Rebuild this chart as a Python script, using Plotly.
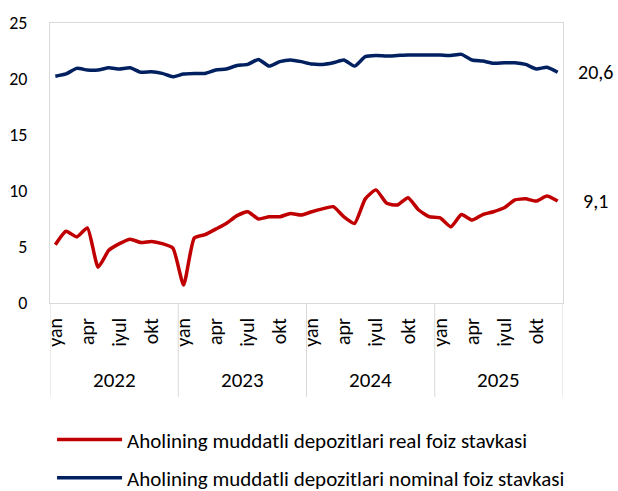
import plotly.graph_objects as go

years = ["2022", "2023", "2024", "2025"]
month_labels = ["yan", "apr", "iyul", "okt"]
month_label_idx = [0, 3, 6, 9]

real_rate = [
    5.2, 6.4, 5.9, 6.7, 3.2, 4.7, 5.3, 5.7, 5.4, 5.5, 5.3, 4.9,
    1.6, 5.8, 6.1, 6.6, 7.1, 7.8, 8.15, 7.5, 7.7, 7.7, 8.0, 7.85,
    8.15, 8.4, 8.6, 7.7, 7.1, 9.3, 10.1, 8.9, 8.75, 9.4, 8.3, 7.7,
    7.6, 6.8, 7.9, 7.4, 7.9, 8.15, 8.5, 9.2, 9.3, 9.1, 9.55, 9.1,
]
nominal_rate = [
    20.25, 20.45, 20.95, 20.8, 20.8, 21.0, 20.9, 21.0, 20.6, 20.65, 20.5, 20.2,
    20.45, 20.5, 20.5, 20.8, 20.9, 21.2, 21.3, 21.75, 21.15, 21.55, 21.7, 21.55,
    21.33, 21.3, 21.45, 21.7, 21.15, 22.0, 22.1, 22.05, 22.1, 22.15, 22.15, 22.15,
    22.15, 22.1, 22.2, 21.7, 21.6, 21.4, 21.45, 21.45, 21.3, 20.9, 21.05, 20.6,
]

name_real = "Aholining muddatli depozitlari real foiz stavkasi"
name_nominal = "Aholining muddatli depozitlari nominal foiz stavkasi"

FONT = "Calibri, Carlito, Lato, sans-serif"
RED = "#C00000"
BLUE = "#002060"
GRID = "#D9D9D9"

n = len(real_rate)
x = list(range(n))

fig = go.Figure()
fig.add_trace(go.Scatter(
    x=x, y=real_rate, name=name_real, mode="lines", showlegend=True,
    line=dict(color=RED, width=3.5, shape="spline", smoothing=0.5),
    legend="legend",
))
fig.add_trace(go.Scatter(
    x=x, y=nominal_rate, name=name_nominal, mode="lines", showlegend=True,
    line=dict(color=BLUE, width=3.5, shape="spline", smoothing=0.5),
    legend="legend2",
))

tickvals = []
ticktext = []
for yi in range(len(years)):
    for lbl, mi in zip(month_labels, month_label_idx):
        tickvals.append(yi * 12 + mi)
        ticktext.append(lbl)

# year labels and dividers
for yi, yr in enumerate(years):
    fig.add_annotation(x=yi * 12 + 5.5, y=-0.275, xref="x", yref="paper",
                       text=yr, showarrow=False, yanchor="middle",
                       font=dict(family=FONT, size=21, color="#000000"))
for b in range(len(years) + 1):
    fig.add_shape(type="line", xref="x", yref="paper",
                  x0=b * 12 - 0.5, x1=b * 12 - 0.5, y0=0, y1=-0.335,
                  line=dict(color=GRID, width=1))

# end labels
for series in (nominal_rate, real_rate):
    fig.add_annotation(x=n - 1, y=series[-1], xref="x", yref="y",
                       text=f"{series[-1]:.1f}".replace(".", ","),
                       showarrow=False, xanchor="center", yanchor="middle",
                       xshift=38,
                       font=dict(family=FONT, size=20, color="#000000"))

fig.update_layout(
    width=618, height=491,
    margin=dict(l=50, r=55, t=23, b=188, autoexpand=False),
    paper_bgcolor="white", plot_bgcolor="white",
    font=dict(family=FONT, size=16, color="#000000"),
    showlegend=True,
    legend=dict(x=0.004, y=-0.489, xanchor="left", yanchor="middle",
                itemwidth=65, bgcolor="rgba(0,0,0,0)", font=dict(size=21)),
    legend2=dict(x=0.004, y=-0.625, xanchor="left", yanchor="middle",
                 itemwidth=65, bgcolor="rgba(0,0,0,0)", font=dict(size=21)),
    xaxis=dict(range=[-0.5, n - 0.5], tickvals=tickvals, ticktext=ticktext,
               tickangle=-90, showgrid=False, zeroline=False,
               showline=True, linecolor=GRID, mirror=True, ticks="",
               tickfont=dict(family=FONT, size=20), ticklabelstandoff=6),
    yaxis=dict(range=[0, 25], dtick=5, showgrid=False, zeroline=False,
               showline=True, linecolor=GRID, mirror=True, ticks="",
               tickfont=dict(family=FONT, size=18), ticklabelstandoff=18),
)

fig.write_html("out.html", config={"displayModeBar": False},
               post_script="document.body.style.margin='0';")
